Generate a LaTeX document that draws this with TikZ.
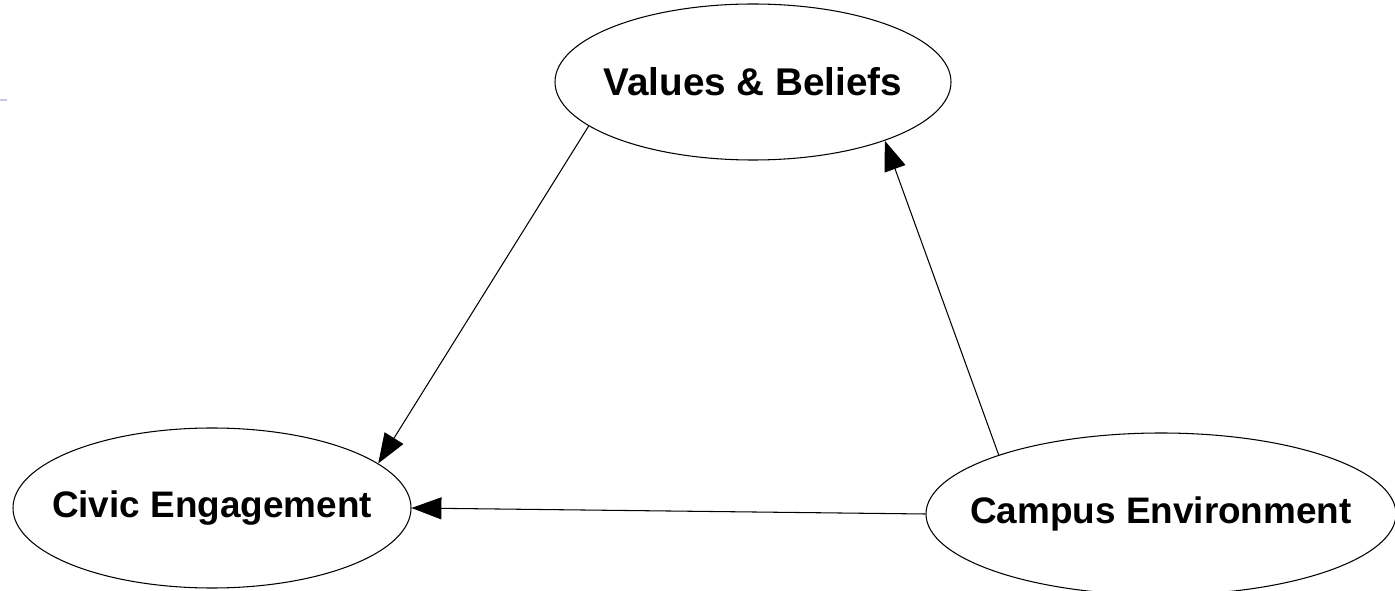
\documentclass[tikz,border=0pt]{standalone}
\usepackage{fontspec}
\setmainfont{Liberation Sans}
\usepackage{tikz}
\usetikzlibrary{shapes.geometric,arrows.meta}
\definecolor{markgray}{RGB}{200,200,225}

\begin{document}
\begin{tikzpicture}[concept/.style={ellipse, draw, line width=0.6pt, inner sep=0pt,
                        font=\fontsize{21}{25}\selectfont\bfseries},
                    link/.style={line width=0.6pt, -{Triangle[length=17pt, width=12.5pt]}}]
                    \useasboundingbox (0,0) rectangle (27.9,11.8);
                    \node[concept, minimum width=7.92cm, minimum height=3.12cm] (values) at (15.06,10.16)
                        {\makebox[0pt]{\fontsize{22}{26}\selectfont Values \& Beliefs}};
                    \node[concept, minimum width=7.96cm, minimum height=3.2cm] (civic) at (4.24,1.64)
                        {\makebox[0pt]{Civic Engagement}};
                    \node[concept, minimum width=9.4cm, minimum height=3.24cm] (campus) at (23.22,1.52)
                        {\makebox[0pt]{Campus Environment}};
                    \draw[link] (values.195) -- (civic.15);
                    \draw[link] (campus.160.5) -- (values.336);
                    \draw[link] (campus.west) -- (civic.east);
                    \coordinate (markl) at (0,9.8);
                    \coordinate (markr) at (0.14,9.8);
                    \draw[markgray, line width=0.6pt] (markl) -- (markr);
                \end{tikzpicture}
\end{document}
